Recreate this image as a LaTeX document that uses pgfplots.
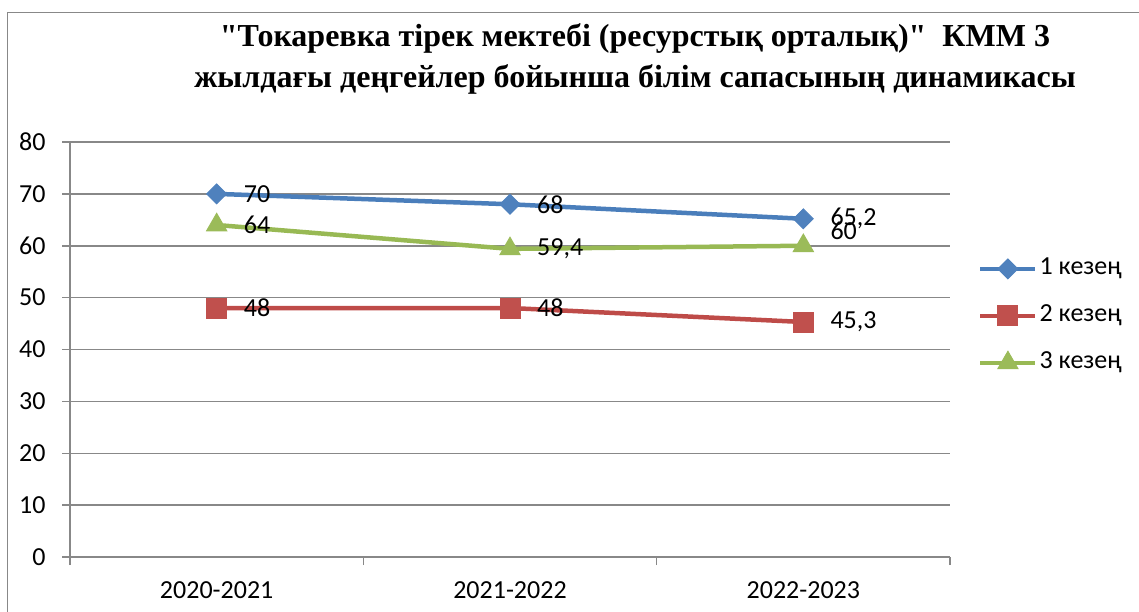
\documentclass[border=0pt]{standalone}
\usepackage{fontspec}
\setmainfont{Carlito}
\newfontfamily\titlefont{Liberation Serif}
\usepackage{pgfplots}
\pgfplotsset{compat=1.18}
\definecolor{axgray}{HTML}{888888}
\definecolor{s1}{HTML}{4A7EBB}
\definecolor{s1f}{HTML}{4F81BD}
\definecolor{s2}{HTML}{BE4B48}
\definecolor{s2f}{HTML}{C0504D}
\definecolor{s3}{HTML}{98B954}
\definecolor{s3f}{HTML}{9BBB59}
\begin{document}
\begin{tikzpicture}
\useasboundingbox (0,0) rectangle (569.5pt,305.5pt);
% outer chart frame (right and bottom edges fall outside the picture)
\draw[axgray, line width=0.75pt] (3.75pt,-5pt) -- (3.75pt,299.25pt) -- (580pt,299.25pt);
\node[anchor=base, inner sep=0pt, font=\titlefont\bfseries\fontsize{16}{19}\selectfont] at (317.5pt,282pt)
  {"Токаревка тірек мектебі (ресурстық орталық)"\ \ КММ 3};
\node[anchor=base, inner sep=0pt, font=\titlefont\bfseries\fontsize{16}{19}\selectfont] at (317.5pt,261.5pt)
  {жылдағы деңгейлер бойынша білім сапасының динамикасы};
\begin{axis}[
  at={(35pt,27pt)}, anchor=south west,
  width=440pt, height=207.5pt, scale only axis,
  xmin=-0.5, xmax=2.5, ymin=0, ymax=80,
  ytick={0,10,...,80},
  xtick={0,1,2},
  xticklabels={2020-2021,2021-2022,2022-2023},
  minor xtick={-0.5,0.5,1.5,2.5},
  axis x line*=bottom, axis y line*=left,
  axis line style={draw=axgray, line width=0.75pt, -},
  ymajorgrids, major grid style={draw=axgray, line width=0.75pt},
  tick align=outside, major tick length=4pt, minor tick length=4pt,
  tick style={draw=axgray, line width=0.75pt},
  major x tick style={draw=none},
  /pgf/number format/assume math mode=true,
  tick label style={font=\fontsize{13}{15}\selectfont, black},
  yticklabel style={anchor=east, inner sep=0pt, xshift=-8pt},
  xticklabel style={anchor=north, inner sep=0pt, yshift=-8pt},
  nodes near coords,
  point meta=explicit symbolic,
  visualization depends on={value \thisrow{dy} \as \dy},
  nodes near coords style={anchor=west, xshift=10pt, yshift=\dy pt, black,
    font=\fontsize{13}{15}\selectfont},
  legend image code/.code={\draw[mark repeat=2,mark phase=2,#1]
    plot coordinates {(0pt,0pt) (13.75pt,0pt) (27.5pt,0pt)};},
  legend cell align=left,
  legend style={at={(1.032,0.581)}, anchor=west, draw=none, fill=none,
    inner sep=0pt, outer sep=0pt, row sep=11.5pt,
    font=\fontsize{13}{15}\selectfont,
    nodes={inner sep=0pt, text height=9pt, text depth=3pt},
    /tikz/every odd column/.append style={column sep=1pt}},
]
\addplot[s1, line width=2.25pt, mark=square*, mark size=3.5pt,
  mark options={rotate=45, fill=s1f, draw=s1f, line width=0.5pt}]
  table[x=x, y=y, meta=lab] {
x y lab dy
0 70 70 0
1 68 68 0
2 65.2 65,2 0
};
\addplot[s2, line width=2.25pt, mark=square*, mark size=5pt,
  mark options={fill=s2f, draw=s2f, line width=0.5pt}]
  table[x=x, y=y, meta=lab] {
x y lab dy
0 48 48 0
1 48 48 0
2 45.3 45,3 0
};
\addplot[s3, line width=2.25pt, mark=triangle*, mark size=5.8pt,
  mark options={fill=s3f, draw=s3f, line width=0.5pt}]
  table[x=x, y=y, meta=lab] {
x y lab dy
0 64 64 0
1 59.4 59,4 0
2 60 60 7.5
};
\legend{1 кезең, 2 кезең, 3 кезең}
\end{axis}
\end{tikzpicture}
\end{document}
